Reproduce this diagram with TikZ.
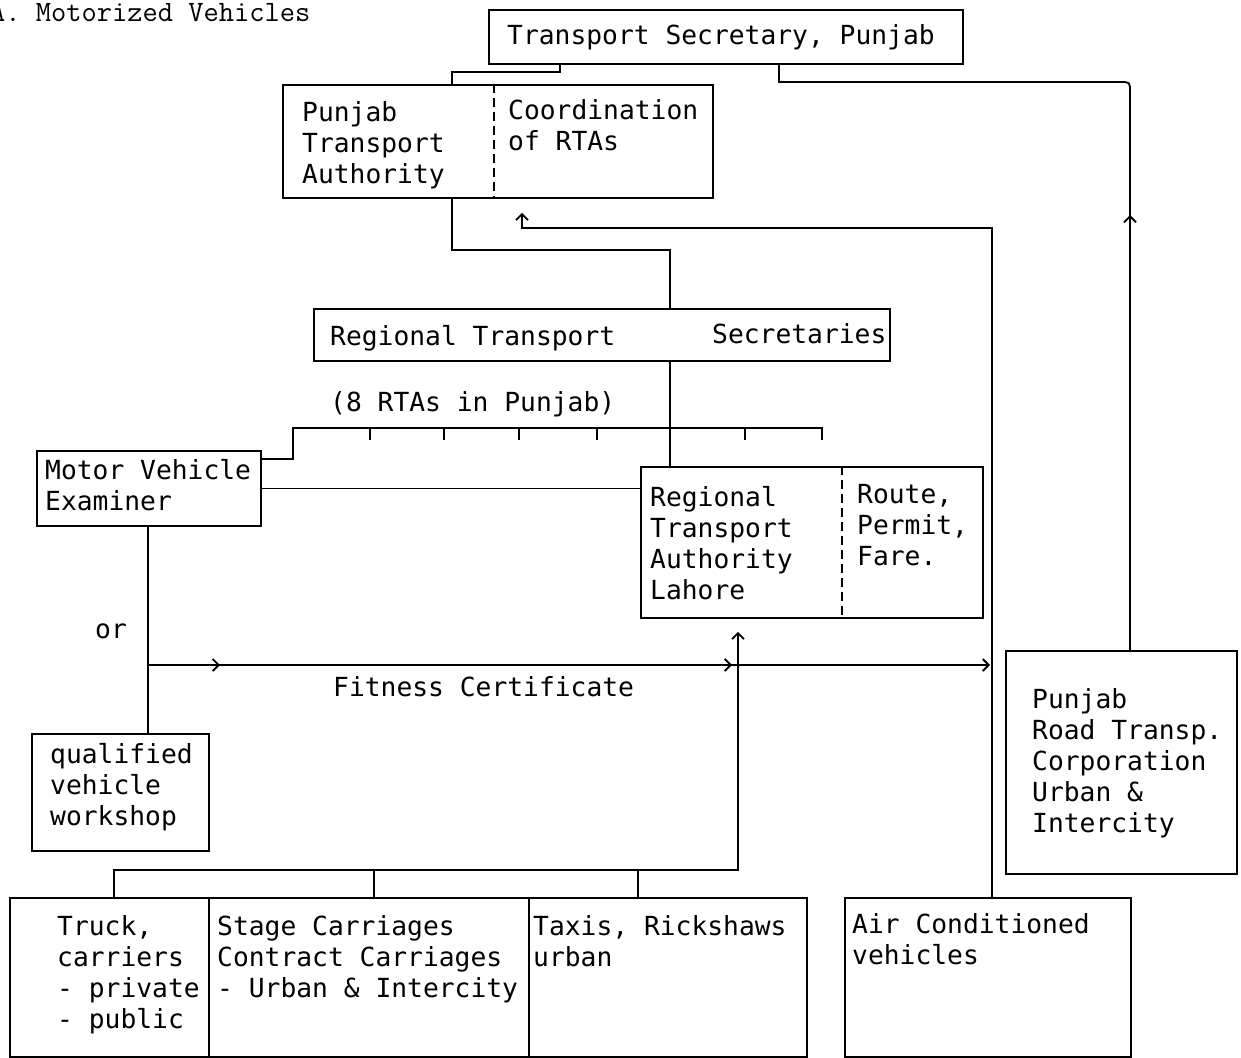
\documentclass[tikz,border=0pt]{standalone}
\usepackage{fontspec}
\newfontfamily\tw{DejaVu Sans Mono}
\usetikzlibrary{arrows.meta,decorations.markings}
\tikzset{barb/.tip={Straight Barb[length=6pt,width=12pt]}}
\newcommand\mybox[5]{\node[box, minimum width={#4-#2}, minimum height={#5-#3}] (#1) at (#2,#3) {};}
% #3 = baseline of the LAST line
\newcommand\mytxt[4]{\node[tx] (#1) at (#2,#3) {#4};}
\begin{document}
\begin{tikzpicture}[x=1pt,y=-1pt,
  box/.style={draw, line width=1.8pt, inner sep=0pt, anchor=north west},
  tx/.style={anchor=base west, align=left, inner sep=0pt, font=\tw\fontsize{26.3}{31}\selectfont},
  conn/.style={line width=1.8pt},
  dsh/.style={line width=1.6pt, dash pattern=on 9pt off 5pt}]
\useasboundingbox (0,0) rectangle (1241,1057);
\clip (0,0) rectangle (1241,1057);
% title
\node[anchor=base west, inner sep=0pt, font=\ttfamily\fontsize{29.6}{30}\selectfont] (title) at (-10,22) {A. Motorized Vehicles};
% boxes
\mybox{ts}{488}{9}{962}{63}
\mybox{pta}{282}{84}{712}{197}
\mybox{rts}{313}{308}{889}{360}
\mybox{mve}{36}{450}{260}{525}
\mybox{rtal}{640}{466}{982}{617}
\mybox{prtc}{1005}{650}{1236}{873}
\mybox{qvw}{31}{733}{208}{850}
\mybox{truck}{9}{897}{208}{1056}
\mybox{stage}{208}{897}{528}{1056}
\mybox{taxis}{528}{897}{806}{1056}
\mybox{air}{844}{897}{1130}{1056}
% dashed dividers
\draw[dsh] (pta.north -| 494,0) -- (pta.south -| 494,0);
\draw[dsh] (rtal.north -| 842,0) -- (rtal.south -| 842,0);
% texts
\mytxt{tTS}{507}{45}{Transport Secretary, Punjab}
\mytxt{tPTA}{302}{183}{Punjab\\Transport\\Authority}
\mytxt{tCoord}{508}{150}{Coordination\\of RTAs}
\mytxt{tRTSa}{330}{345}{Regional Transport}
\mytxt{tRTSb}{712}{343}{Secretaries}
\mytxt{tEight}{330}{411}{(8 RTAs in Punjab)}
\mytxt{tMVE}{45}{510}{Motor Vehicle\\Examiner}
\mytxt{tRTAL}{650}{599}{Regional\\Transport\\Authority\\Lahore}
\mytxt{tRoute}{857}{565}{Route,\\Permit,\\Fare.}
\mytxt{tOr}{95}{638}{or}
\mytxt{tFit}{333}{696}{Fitness Certificate}
\mytxt{tQVW}{50}{825}{qualified\\vehicle\\workshop}
\mytxt{tPRTC}{1032}{832}{Punjab\\Road Transp.\\Corporation\\Urban \&\\Intercity}
\mytxt{tTruck}{57}{1028}{Truck,\\carriers\\- private\\- public}
\mytxt{tStage}{217}{997}{Stage Carriages\\Contract Carriages\\- Urban \& Intercity}
\mytxt{tTaxi}{533}{966}{Taxis, Rickshaws\\urban}
\mytxt{tAir}{852}{964}{Air Conditioned\\vehicles}
% connectors
\draw[conn] (ts.south -| 560,0) -- (560,72) -| (pta.north -| 452,0);
\draw[conn, postaction={decorate}, decoration={markings, mark=at position 435pt with {\arrow{barb}}}]
  (prtc.north -| 1130,0) -- (1130,92) .. controls (1130,82) .. (1120,82) -- (779,82) -- (ts.south -| 779,0);
\draw[conn] (pta.south -| 452,0) |- (670,250) -- (rts.north -| 670,0);
\draw[conn, -{barb}, shorten >=14pt] (air.north -| 992,0) |- (522,228) -- (pta.south -| 522,0);
\draw[conn] (rts.south -| 670,0) -- (rtal.north -| 670,0);
\draw[conn] (mve.east |- 0,459) -- (293,459) |- (822,428) -- (822,440);
\foreach \x in {370,444,519,597,745} \draw[conn] (\x,428) -- (\x,440);
\draw[conn] (mve.east) -- (mve.east -| rtal.west);
\draw[conn] (mve.south -| 148,0) -- (qvw.north -| 148,0);
\coordinate (fs) at (148,665);
\coordinate (fe) at (990,665);
\draw[conn, -{barb}, postaction={decorate}, decoration={markings,
   mark=at position 72pt with {\arrow{barb}},
   mark=at position 584pt with {\arrow{barb}}}] (fs) -- (fe);
\draw[conn, -{barb}, shorten >=13pt] (truck.north -| 114,0) -- (114,870) -- (738,870) -- (rtal.south -| 738,0);
\draw[conn] (stage.north -| 374,0) -- (374,870);
\draw[conn] (taxis.north -| 638,0) -- (638,870);
\end{tikzpicture}
\end{document}
